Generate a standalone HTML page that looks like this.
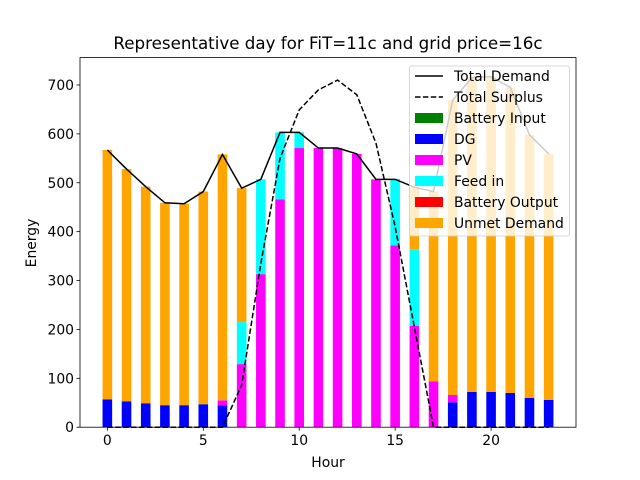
<!DOCTYPE html>
<html><head><meta charset="utf-8"><style>
body{margin:0;background:#fff;}
svg{display:block;font-family:"DejaVu Sans","Liberation Sans",sans-serif;}
</style></head><body>
<svg id="chart" width="640" height="480"></svg>
<script>
const hours=[0,1,2,3,4,5,6,7,8,9,10,11,12,13,14,15,16,17,18,19,20,21,22,23];
const demand=[567,528,492,459,457,482,558,489,507,603,603,571,571,559,507,507,491,482,669,715,717,695,598,559];
const surplus=[0,0,0,0,0,0,0,86,335,550,649,690,710,680,581,410,205,0,0,0,0,0,0,0];
const batteryIn=[0,0,0,0,0,0,0,0,0,0,0,0,0,0,0,0,0,0,0,0,0,0,0,0];
const dg=[57,53,49,45,45,47,45,0,0,0,0,0,0,0,0,0,0,0,51,72,72,70,60,56];
const pv=[0,0,0,0,0,0,10,129,313,466,571,571,571,559,507,372,207,94,15,0,0,0,0,0];
const feedIn=[0,0,0,0,0,0,0,86,194,137,32,0,0,0,0,136,157,0,0,0,0,0,0,0];
const batteryOut=[0,0,0,0,0,0,0,0,0,0,0,0,0,0,0,0,0,0,0,0,0,0,0,0];
const unmet=[510,475,443,414,412,435,503,274,0,0,0,0,0,0,0,0,127,388,603,643,645,625,538,503];
const xTicks=[0,5,10,15,20];
const yTicks=[0,100,200,300,400,500,600,700];
const legendLabels=["Total Demand","Total Surplus","Battery Input","DG","PV","Feed in","Battery Output","Unmet Demand"];

const NS="http://www.w3.org/2000/svg";
const svg=document.getElementById('chart');
const L=80,R=576,T=57.6,B=427.2,xmin=-1.425,xmax=24.425,ymax=756;
const X=v=>L+(v-xmin)/(xmax-xmin)*(R-L);
const Y=v=>B-v/ymax*(B-T);
function el(tag,attrs,parent){const e=document.createElementNS(NS,tag);for(const k in attrs)e.setAttribute(k,attrs[k]);(parent||svg).appendChild(e);return e;}

const title=el('text',{x:328,y:49,'text-anchor':'middle','font-size':'16.7'});
title.textContent="Representative day for FiT=11c and grid price=16c";



const stacks=[[batteryIn,'green','battery-input'],[dg,'blue','dg'],[pv,'magenta','pv'],[feedIn,'cyan','feed-in'],[batteryOut,'red','battery-output'],[unmet,'orange','unmet-demand']];
const bars=el('g',{});


hours.forEach((h,i)=>{
  let base=0;
  stacks.forEach(([arr,col,nm])=>{
    const v=arr[i];
    if(v>0){
      const r=el('rect',{x:X(h-0.25),y:Y(base+v),width:X(h+0.25)-X(h-0.25),height:Y(base)-Y(base+v),fill:col},bars);
      
      
    }
    base+=v;
  });
});
const dPts=hours.map((h,i)=>X(h)+','+Y(demand[i])).join(' ');
const dl=el('polyline',{points:dPts,fill:'none',stroke:'#000','stroke-width':1.5});


const sPts=hours.map((h,i)=>X(h)+','+Y(surplus[i])).join(' ');
const sl=el('polyline',{points:sPts,fill:'none',stroke:'#000','stroke-width':1.5,'stroke-dasharray':'5.5,2.4'});



const frame=el('rect',{x:L,y:T,width:R-L,height:B-T,fill:'none',stroke:'#000','stroke-width':0.8});


xTicks.forEach(t=>{
  el('line',{x1:X(t),x2:X(t),y1:B,y2:B+3.5,stroke:'#000','stroke-width':0.8});
  const tx=el('text',{x:X(t),y:B+18,'text-anchor':'middle','font-size':'13.9'});
  tx.textContent=t;
  
  
});
yTicks.forEach(t=>{
  el('line',{x1:L-3.5,x2:L,y1:Y(t),y2:Y(t),stroke:'#000','stroke-width':0.8});
  const tx=el('text',{x:L-6,y:Y(t)+5,'text-anchor':'end','font-size':'13.9'});
  tx.textContent=t;
  
  
});
const xt=el('text',{x:328,y:467,'text-anchor':'middle','font-size':'13.9'});
xt.textContent="Hour";


const yt=el('text',{x:36,y:243,'text-anchor':'middle','font-size':'13.9',transform:'rotate(-90 36 243)'});
yt.textContent="Energy";



const lg=el('g',{});


el('rect',{x:409.5,y:66,width:160,height:170,rx:2,fill:'rgba(255,255,255,0.8)',stroke:'#ccc','stroke-width':0.8},lg);
const lcols=[null,null,'green','blue','magenta','cyan','red','orange'];
legendLabels.forEach((lab,i)=>{
  const y=76+i*21;
  if(i===0) el('line',{x1:415,x2:443,y1:y,y2:y,stroke:'#000','stroke-width':1.5},lg);
  else if(i===1) el('line',{x1:415,x2:443,y1:y,y2:y,stroke:'#000','stroke-width':1.5,'stroke-dasharray':'5.5,2.4'},lg);
  else el('rect',{x:415,y:y-5,width:28,height:10,fill:lcols[i]},lg);
  const t=el('text',{x:454,y:y+5,'font-size':'13.9'},lg);
  t.textContent=lab;
  
  
});
</script>
</body></html>
